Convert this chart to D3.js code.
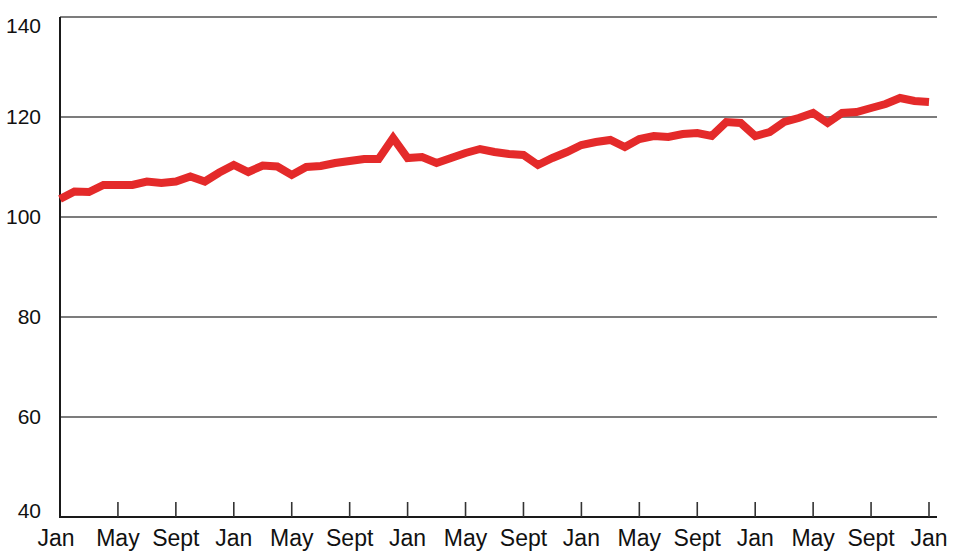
<!DOCTYPE html>
<html>
<head>
<meta charset="utf-8">
<script src="https://cdn.jsdelivr.net/npm/d3@7"></script>
<style>
  html, body { margin: 0; padding: 0; background: #ffffff; }
  svg { display: block; }
</style>
</head>
<body>
<svg id="chart" width="980" height="552"></svg>
<script>
// Monthly index values, Jan (year 1) through Jan (year 6): 61 months
const values = [
  103.6, 105.1, 105.0, 106.4, 106.4, 106.4, 107.1, 106.8, 107.1, 108.1,
  107.1, 108.9, 110.4, 109.0, 110.3, 110.1, 108.4, 110.0, 110.2, 110.8,
  111.2, 111.6, 111.6, 115.8, 111.8, 112.0, 110.8, 111.8, 112.8, 113.6,
  113.0, 112.6, 112.4, 110.4, 111.8, 113.0, 114.4, 115.0, 115.4, 114.0,
  115.6, 116.2, 116.0, 116.6, 116.8, 116.2, 119.0, 118.8, 116.2, 117.0,
  119.0, 119.8, 120.8, 118.8, 120.8, 121.0, 121.8, 122.6, 123.8, 123.2,
  123.0
];
const monthNames = ["Jan", "May", "Sept"];
const tickMonths = d3.range(0, 61, 4);
const yTicks = [40, 60, 80, 100, 120, 140];
const yDomain = [40, 140];

const svg = d3.select("#chart");
const x = d3.scaleLinear().domain([0, 60]).range([60, 929]);
const y = d3.scaleLinear().domain(yDomain).range([517, 17]);
const xEnd = 937;

// gridlines
svg.append("g").selectAll("line")
  .data(yTicks.filter(v => v > 40))
  .join("line")
  .attr("x1", x(0)).attr("x2", xEnd)
  .attr("y1", d => y(d)).attr("y2", d => y(d))
  .attr("stroke", "#7c7c7c").attr("stroke-width", 2.2);

// axes lines
svg.append("line")
  .attr("x1", x(0)).attr("x2", x(0))
  .attr("y1", y(140)).attr("y2", y(40) + 1)
  .attr("stroke", "#1a1a1a").attr("stroke-width", 2);
svg.append("line")
  .attr("x1", x(0) - 1).attr("x2", xEnd)
  .attr("y1", y(40)).attr("y2", y(40))
  .attr("stroke", "#1a1a1a").attr("stroke-width", 2);

// x tick marks (pointing up)
svg.append("g").selectAll("line")
  .data(tickMonths.filter(m => m > 0))
  .join("line")
  .attr("x1", d => x(d)).attr("x2", d => x(d))
  .attr("y1", y(40)).attr("y2", y(40) - 15)
  .attr("stroke", "#333").attr("stroke-width", 1.6);

// x labels
svg.append("g").selectAll("text")
  .data(tickMonths)
  .join("text")
  .attr("x", d => x(d) - (d === 0 ? 4 : 0))
  .attr("y", 546)
  .attr("text-anchor", "middle")
  .attr("font-family", "Liberation Sans, Arial, sans-serif")
  .attr("font-size", 23)
  .attr("fill", "#111")
  .text(d => monthNames[(d / 4) % 3]);

// y labels
svg.append("g").selectAll("text")
  .data(yTicks)
  .join("text")
  .attr("x", 41)
  .attr("y", d => {
    let base = y(d) + 7;
    if (d === yDomain[1]) base = y(d) + 16;
    if (d === yDomain[0]) base = y(d) + 1;
    return base;
  })
  .attr("text-anchor", "end")
  .attr("font-family", "Liberation Sans, Arial, sans-serif")
  .attr("font-size", 21)
  .attr("fill", "#111")
  .text(d => d);

// line
const line = d3.line()
  .x((d, i) => x(i))
  .y(d => y(d));
svg.append("path")
  .datum(values)
  .attr("d", line)
  .attr("fill", "none")
  .attr("stroke", "#e42a2a")
  .attr("stroke-width", 8)
  .attr("stroke-linejoin", "miter")
  .attr("stroke-linecap", "butt");
</script>
</body>
</html>
